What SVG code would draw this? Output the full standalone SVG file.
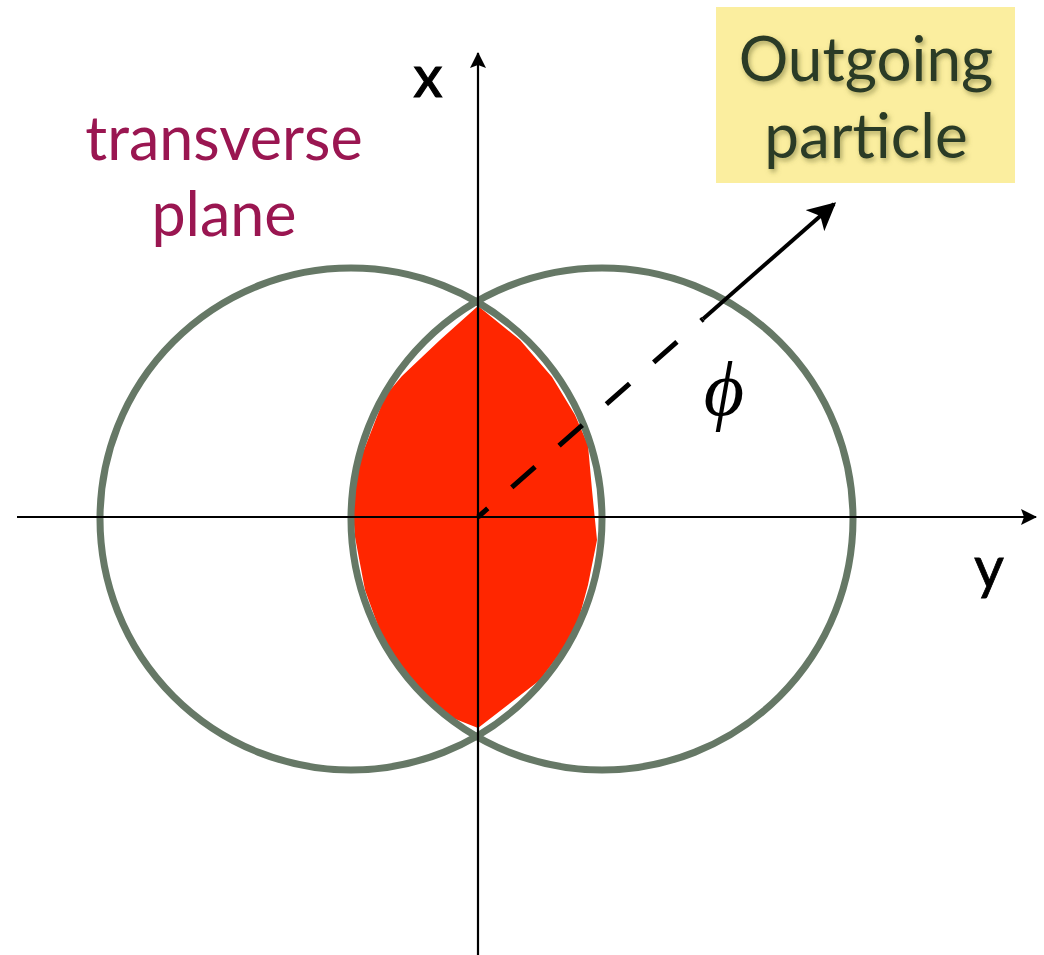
<svg xmlns="http://www.w3.org/2000/svg" width="1044" height="955" viewBox="0 0 1044 955">
<style>
.axis{stroke:#000;stroke-width:2.2;fill:none}
.ring{fill:none;stroke:#667866;stroke-width:7}
.lbl{font-family:Lato,"Open Sans","Liberation Sans",sans-serif}
</style>
<defs>
<marker id="ah" viewBox="0 0 16 16" refX="15" refY="8" markerWidth="16" markerHeight="16" markerUnits="userSpaceOnUse" orient="auto">
<path d="M0,0 L16,8 L0,16 L3,8 Z" fill="#000"/>
</marker>
<marker id="ah2" viewBox="0 0 10 10" refX="9" refY="5" markerWidth="7" markerHeight="7" orient="auto">
<path d="M0,0 L10,5 L0,10 L2.5,5 Z" fill="#000"/>
</marker>
<filter id="sh" x="-10%" y="-10%" width="120%" height="130%">
<feDropShadow dx="2" dy="3" stdDeviation="2.5" flood-color="#6b6a30" flood-opacity="0.55"/>
</filter>
</defs>
<rect width="1044" height="955" fill="#fff"/>
<g id="overlap">
<polygon points="478,306 520,340 552,377 575,415 588,445 592,490 597,540 588,585 575,633 540,680 478,728 440,713 400,670 385,645 365,590 355,537 352,500 360,460 385,396 402,376 440,340" fill="#ff2600"/>
</g>
<g id="circles">
<circle id="left-circle" class="ring" cx="351" cy="519" r="251"/>
<circle id="right-circle" class="ring" cx="602" cy="519" r="251"/>
</g>
<g id="connectors">
<line class="axis" x1="478" y1="955" x2="478" y2="53" marker-end="url(#ah)"/>
<line class="axis" x1="17" y1="517" x2="1036" y2="517" marker-end="url(#ah)"/>
<line x1="478" y1="517" x2="703" y2="319" stroke="#000" stroke-width="5" stroke-dasharray="31 32" stroke-dashoffset="18"/>
<line x1="703" y1="319" x2="834" y2="204" stroke="#000" stroke-width="4" marker-end="url(#ah2)"/>
</g>
<g id="axis-labels">
<text class="lbl" x="428" y="97" font-size="58" text-anchor="middle" fill="#000" stroke="#000" stroke-width="1.2">x</text>
<text class="lbl" x="989" y="588" font-size="58" text-anchor="middle" fill="#000" stroke="#000" stroke-width="0.8">y</text>
<text x="724" y="415" font-family="'Liberation Serif','DejaVu Serif',serif" font-style="italic" font-size="78" text-anchor="middle" fill="#000">ϕ</text>
</g>
<g id="transverse-plane">
<text class="lbl" x="224" y="160" font-size="61" text-anchor="middle" fill="#9a1651">transverse</text>
<text class="lbl" x="224" y="236" font-size="61" text-anchor="middle" fill="#9a1651">plane</text>
</g>
<g id="outgoing-particle">
<rect x="716" y="7" width="299" height="176" fill="#fbee9f"/>
<g filter="url(#sh)" fill="#2b3a27">
<text class="lbl" x="866" y="81" font-size="62" text-anchor="middle">Outgoing</text>
<text class="lbl" x="866" y="158" font-size="62" text-anchor="middle">particle</text>
</g>
</g>
</svg>
